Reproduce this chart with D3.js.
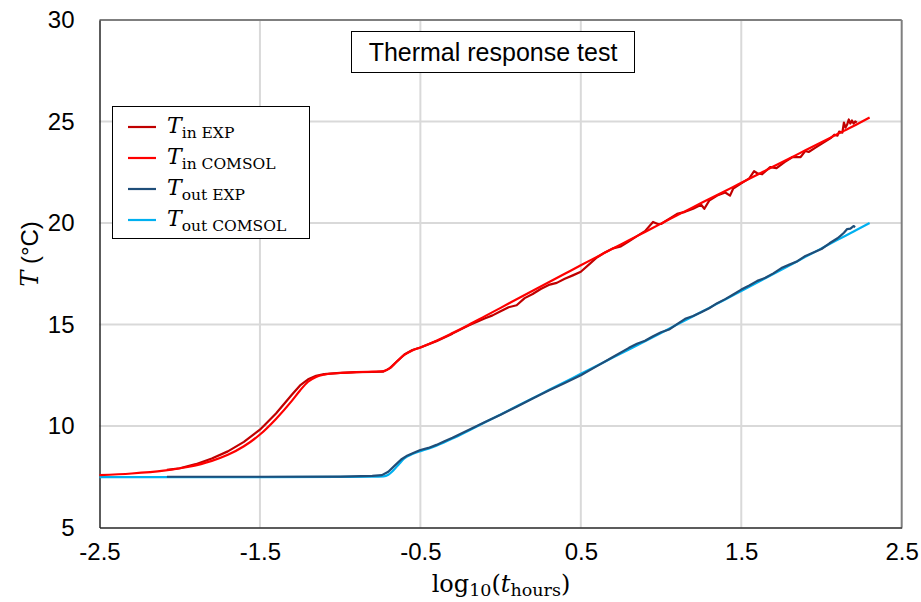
<!DOCTYPE html>
<html>
<head>
<meta charset="utf-8">
<script src="https://cdn.jsdelivr.net/npm/d3@7/dist/d3.min.js"></script>
<style>
  html, body { margin: 0; padding: 0; background: #fff; }
  svg { display: block; }
</style>
</head>
<body>
<svg id="chart" width="921" height="602"></svg>
<script>
// ---------------- DATA ----------------
const xTicks = [-2.5, -1.5, -0.5, 0.5, 1.5, 2.5];
const xTickLabels = ["-2.5", "-1.5", "-0.5", "0.5", "1.5", "2.5"];
const yTicks = [5, 10, 15, 20, 25, 30];
const yTickLabels = ["5", "10", "15", "20", "25", "30"];

const titleText = "Thermal response test";
const seriesNames = ["in EXP", "in COMSOL", "out EXP", "out COMSOL"];

// T_in COMSOL
const tinComsolX = [-2.5,-2.3,-2.1,-1.95,-1.8,-1.7,-1.6,-1.5,-1.4,-1.3,-1.25,-1.2,-1.15,-1.1,-1.0,-0.9,-0.8,-0.73,-0.69,-0.65,-0.6,-0.55,-0.5,-0.4,-0.3,-0.2,-0.1,0.0,0.1,0.2,0.3,0.4,0.5,0.6,0.7,0.8,0.9,1.0,1.1,1.2,1.3,1.4,1.5,1.6,1.7,1.8,1.9,2.0,2.1,2.2,2.3];
const tinComsolY = [7.58,7.66,7.80,7.98,8.28,8.58,9.0,9.58,10.35,11.25,11.75,12.18,12.42,12.53,12.61,12.65,12.68,12.7,12.85,13.15,13.5,13.72,13.87,14.2,14.58,14.98,15.4,15.82,16.24,16.66,17.08,17.5,17.92,18.33,18.74,19.15,19.56,19.97,20.38,20.78,21.18,21.58,21.98,22.38,22.78,23.18,23.58,23.98,24.38,24.78,25.2];

// T_in EXP
const tinExpX = [-2.08,-2.0,-1.9,-1.8,-1.7,-1.6,-1.5,-1.4,-1.3,-1.25,-1.2,-1.15,-1.1,-1.0,-0.9,-0.8,-0.73,-0.69,-0.65,-0.6,-0.55,-0.5,-0.4,-0.3,-0.2,-0.1,-0.05,0.0,0.05,0.1,0.15,0.2,0.25,0.3,0.35,0.4,0.45,0.5,0.55,0.6,0.65,0.7,0.75,0.8,0.85,0.9,0.95,0.98,1.0,1.05,1.1,1.15,1.2,1.25,1.27,1.3,1.35,1.4,1.43,1.45,1.5,1.55,1.58,1.6,1.63,1.68,1.72,1.77,1.8,1.82,1.87,1.9,1.92,1.97,2.0,2.03,2.06,2.08,2.1,2.11,2.13,2.14,2.15,2.16,2.17,2.18,2.19,2.2,2.21,2.22];
const tinExpY = [7.84,7.92,8.12,8.4,8.75,9.22,9.82,10.62,11.55,12.0,12.3,12.47,12.56,12.62,12.65,12.66,12.68,12.85,13.15,13.52,13.74,13.87,14.18,14.55,14.95,15.3,15.45,15.65,15.85,15.95,16.3,16.5,16.75,16.95,17.05,17.25,17.42,17.6,17.95,18.3,18.55,18.75,18.85,19.1,19.35,19.6,20.05,19.95,19.95,20.2,20.45,20.55,20.7,20.9,20.7,21.1,21.35,21.5,21.35,21.7,21.95,22.2,22.55,22.45,22.4,22.75,22.7,23.0,23.15,23.25,23.25,23.55,23.5,23.75,23.9,24.05,24.2,24.35,24.3,24.5,24.45,24.95,24.7,24.85,25.1,24.9,25.05,24.9,25.0,24.95];

// T_out COMSOL
const toutComsolX = [-2.5,-2.0,-1.5,-1.0,-0.8,-0.73,-0.7,-0.67,-0.63,-0.6,-0.55,-0.5,-0.45,-0.4,-0.3,-0.2,-0.1,0.0,0.1,0.2,0.3,0.4,0.5,0.6,0.7,0.8,0.9,1.0,1.1,1.2,1.3,1.4,1.5,1.6,1.7,1.8,1.9,2.0,2.1,2.2,2.3];
const toutComsolY = [7.48,7.48,7.48,7.49,7.5,7.52,7.6,7.8,8.15,8.4,8.62,8.76,8.88,9.03,9.38,9.77,10.17,10.57,10.97,11.37,11.77,12.17,12.57,12.97,13.37,13.77,14.17,14.58,15.0,15.41,15.82,16.23,16.65,17.07,17.49,17.91,18.33,18.75,19.17,19.58,20.0];

// T_out EXP
const toutExpX = [-2.08,-1.5,-1.0,-0.8,-0.74,-0.7,-0.66,-0.62,-0.58,-0.53,-0.5,-0.45,-0.4,-0.35,-0.3,-0.2,-0.1,0.0,0.1,0.2,0.3,0.4,0.5,0.6,0.7,0.8,0.85,0.9,0.95,1.0,1.05,1.1,1.15,1.2,1.25,1.3,1.35,1.4,1.45,1.5,1.55,1.6,1.65,1.7,1.75,1.8,1.85,1.9,1.95,2.0,2.05,2.08,2.1,2.12,2.14,2.16,2.18,2.2,2.21];
const toutExpY = [7.5,7.5,7.51,7.54,7.58,7.75,8.05,8.35,8.55,8.72,8.82,8.92,9.07,9.25,9.42,9.8,10.18,10.55,10.95,11.35,11.75,12.12,12.5,12.95,13.4,13.85,14.05,14.2,14.42,14.62,14.75,15.02,15.28,15.42,15.6,15.8,16.05,16.25,16.48,16.72,16.92,17.15,17.3,17.52,17.78,17.95,18.12,18.38,18.55,18.72,19.0,19.15,19.25,19.38,19.52,19.7,19.72,19.85,19.8];

// ---------------- CHART ----------------
const svg = d3.select("#chart");
const W = 921, H = 602;
const margin = { left: 99.5, right: W - 901.7, top: 20, bottom: H - 527.5 };

const x = d3.scaleLinear().domain([-2.5, 2.5]).range([margin.left, W - margin.right]);
const y = d3.scaleLinear().domain([5, 30]).range([H - margin.bottom, margin.top]);

const colors = {
  tinExp: "#c00000",
  tinComsol: "#ff0000",
  toutExp: "#1f4e79",
  toutComsol: "#00b0f0"
};
const mathFont = "'DejaVu Serif', 'Liberation Serif', serif";
const sansFont = "'Liberation Sans', Arial, sans-serif";

// gridlines
const grid = svg.append("g");
grid.selectAll("line.gx").data(xTicks.slice(1, -1)).enter().append("line")
  .attr("x1", d => x(d)).attr("x2", d => x(d))
  .attr("y1", y(5)).attr("y2", y(30))
  .attr("stroke", "#d9d9d9").attr("stroke-width", 2);
grid.selectAll("line.gy").data(yTicks.slice(1, -1)).enter().append("line")
  .attr("x1", x(-2.5)).attr("x2", x(2.5))
  .attr("y1", d => y(d)).attr("y2", d => y(d))
  .attr("stroke", "#d9d9d9").attr("stroke-width", 2);

// frame: top/right gray
svg.append("line").attr("x1", x(-2.5)).attr("x2", x(2.5)).attr("y1", y(30)).attr("y2", y(30))
  .attr("stroke", "#7f7f7f").attr("stroke-width", 2);
svg.append("line").attr("x1", x(2.5)).attr("x2", x(2.5)).attr("y1", y(30)).attr("y2", y(5))
  .attr("stroke", "#7f7f7f").attr("stroke-width", 2);

// axes (left/bottom)
const xAxis = d3.axisBottom(x).tickValues(xTicks).tickFormat((d, i) => xTickLabels[i]).tickSize(0).tickPadding(15);
const yAxis = d3.axisLeft(y).tickValues(yTicks).tickFormat((d, i) => yTickLabels[i]).tickSize(0).tickPadding(25);

const gx = svg.append("g").attr("transform", `translate(0,${y(5)})`).call(xAxis);
const gy = svg.append("g").attr("transform", `translate(${x(-2.5)},0)`).call(yAxis);
[gx, gy].forEach(g => {
  g.select(".domain").attr("stroke", "#262626").attr("stroke-width", 1.5);
  g.selectAll("text").attr("font-family", sansFont)
    .attr("font-size", 24).attr("fill", "#000");
});
gx.selectAll("text").attr("dy", "0.71em");

// lines
const lineLinear = d3.line().x(d => x(d[0])).y(d => y(d[1]));
const lineSmooth = d3.line().x(d => x(d[0])).y(d => y(d[1])).curve(d3.curveMonotoneX);
const zip = (a, b) => a.map((v, i) => [v, b[i]]);

const plot = svg.append("g");
plot.append("path").datum(zip(toutComsolX, toutComsolY)).attr("d", lineSmooth)
  .attr("fill", "none").attr("stroke", colors.toutComsol).attr("stroke-width", 2.2);
plot.append("path").datum(zip(toutExpX, toutExpY)).attr("d", lineLinear)
  .attr("fill", "none").attr("stroke", colors.toutExp).attr("stroke-width", 2.2).attr("stroke-linejoin", "round");
plot.append("path").datum(zip(tinExpX, tinExpY)).attr("d", lineLinear)
  .attr("fill", "none").attr("stroke", colors.tinExp).attr("stroke-width", 2.2).attr("stroke-linejoin", "round");
plot.append("path").datum(zip(tinComsolX, tinComsolY)).attr("d", lineSmooth)
  .attr("fill", "none").attr("stroke", colors.tinComsol).attr("stroke-width", 2.2);

// title box
const tb = svg.append("g");
tb.append("rect").attr("x", 351.5).attr("y", 31.5).attr("width", 283).attr("height", 41)
  .attr("fill", "#fff").attr("stroke", "#000").attr("stroke-width", 1);
tb.append("text").attr("x", 493).attr("y", 61).attr("text-anchor", "middle")
  .attr("font-family", sansFont).attr("font-size", 25)
  .attr("fill", "#000").text(titleText);

// legend
const lg = svg.append("g");
lg.append("rect").attr("x", 112.5).attr("y", 106.5).attr("width", 197).attr("height", 132)
  .attr("fill", "#fff").attr("stroke", "#000").attr("stroke-width", 1);
const legendColors = [colors.tinExp, colors.tinComsol, colors.toutExp, colors.toutComsol];
const rowY = [127, 158, 189, 220];
seriesNames.forEach((name, i) => {
  lg.append("line").attr("x1", 128).attr("x2", 156).attr("y1", rowY[i]).attr("y2", rowY[i])
    .attr("stroke", legendColors[i]).attr("stroke-width", 2.2);
  const t = lg.append("text").attr("x", 167).attr("y", rowY[i] + 6)
    .attr("font-family", mathFont).attr("fill", "#000");
  t.append("tspan").attr("font-style", "italic").attr("font-size", 22).text("T");
  t.append("tspan").attr("font-size", 15.5).attr("dy", 5).attr("dx", 0).text(name);
});

// x axis title
const xt = svg.append("text").attr("x", 501).attr("y", 592).attr("text-anchor", "middle")
  .attr("font-family", mathFont).attr("font-size", 24).attr("fill", "#000");
xt.append("tspan").text("log");
xt.append("tspan").attr("font-size", 17.5).attr("dy", 4).text("10");
xt.append("tspan").attr("dy", -4).text("(");
xt.append("tspan").attr("font-style", "italic").text("t");
xt.append("tspan").attr("font-size", 17.5).attr("dy", 4).text("hours");
xt.append("tspan").attr("dy", -4).text(")");

// y axis title
const yt = svg.append("text").attr("transform", "translate(38,254) rotate(-90)")
  .attr("text-anchor", "middle").attr("font-size", 24).attr("fill", "#000");
yt.append("tspan").attr("font-family", mathFont).attr("font-style", "italic").text("T");
yt.append("tspan").attr("font-family", sansFont).text(" (°C)");
</script>
</body>
</html>
